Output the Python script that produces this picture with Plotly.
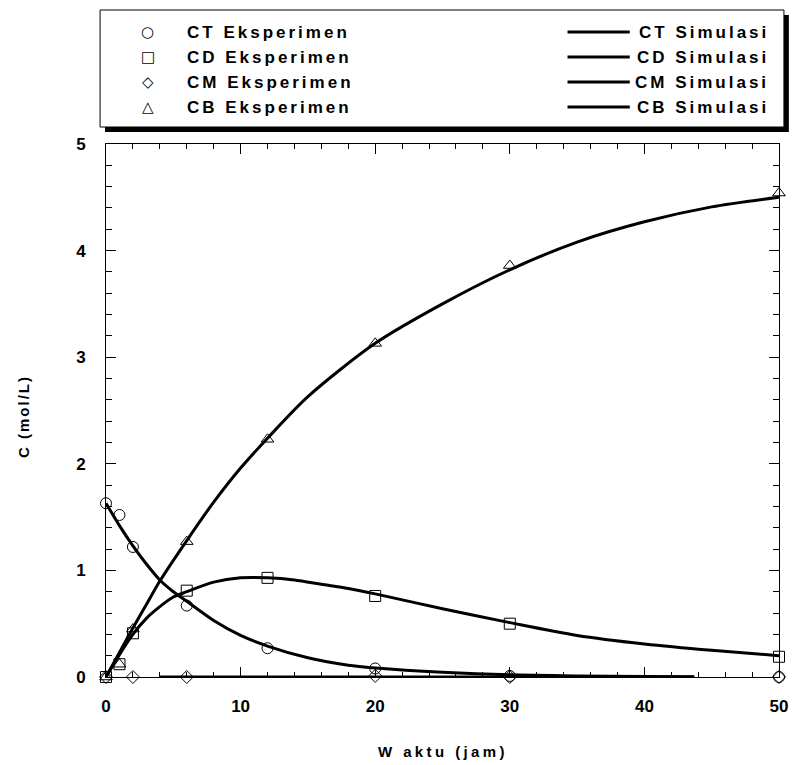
import plotly.graph_objects as go

# ---------------- data ----------------
t_exp = [0, 1, 2, 6, 12, 20, 30, 50]
ct_exp = [1.63, 1.52, 1.22, 0.67, 0.27, 0.08, 0.01, 0.0]
cd_exp = [0.0, 0.12, 0.41, 0.81, 0.93, 0.76, 0.50, 0.19]
cb_exp = [0.0, 0.12, 0.45, 1.27, 2.23, 3.13, 3.86, 4.54]
t_cm = [0, 2, 6, 20, 30, 50]
cm_exp = [0.0, 0.0, 0.0, 0.01, 0.0, 0.0]

t_ct_sim = [0, 1, 2, 3, 4, 5, 6, 8, 10, 12, 15, 18, 20, 25, 30, 35, 40, 43.7]
ct_sim = [1.63, 1.42, 1.23, 1.06, 0.91, 0.80, 0.71, 0.53, 0.39, 0.29, 0.18, 0.11, 0.085, 0.045, 0.02, 0.01, 0.005, 0.003]
t_cd_sim = [0, 1, 2, 3, 4, 5, 6, 8, 10, 12, 14, 16, 18, 20, 25, 30, 35, 40, 45, 50]
cd_sim = [0.0, 0.21, 0.40, 0.55, 0.66, 0.75, 0.80, 0.89, 0.93, 0.93, 0.91, 0.87, 0.83, 0.78, 0.64, 0.51, 0.39, 0.31, 0.25, 0.20]
t_cm_sim = [4, 10, 20, 30, 43.7]
cm_sim = [0.0, 0.0, 0.0, 0.0, 0.0]
t_cb_sim = [0, 1, 2, 3, 4, 6, 8, 10, 12, 15, 20, 25, 30, 35, 40, 45, 50]
cb_sim = [0.0, 0.23, 0.46, 0.68, 0.90, 1.28, 1.64, 1.96, 2.24, 2.63, 3.13, 3.50, 3.82, 4.08, 4.27, 4.41, 4.50]

exp_labels = ["CT Eksperimen", "CD Eksperimen", "CM Eksperimen", "CB Eksperimen"]
sim_labels = ["CT Simulasi", "CD Simulasi", "CM Simulasi", "CB Simulasi"]
legend_symbols = ["\u25CB", "\u25A1", "\u25C7", "\u25B3"]
x_title = "W aktu (jam)"
y_title = "C (mol/L)"

# ---------------- layout constants ----------------
W, H = 800, 765
ML, MR, MT, MB = 106, 13, 144, 88
PW, PH = W - ML - MR, H - MT - MB
FONT = "Liberation Sans, Arial, sans-serif"


def px(X):
    return (X - ML) / PW


def py(Y):
    return (H - MB - Y) / PH


fig = go.Figure()

line_style = dict(color="black", width=3, shape="spline", smoothing=0.8)
for xs, ys in [(t_ct_sim, ct_sim), (t_cd_sim, cd_sim), (t_cm_sim, cm_sim), (t_cb_sim, cb_sim)]:
    fig.add_trace(go.Scatter(x=xs, y=ys, mode="lines", line=line_style,
                             showlegend=False, hoverinfo="skip"))

marker_specs = [
    (t_exp, ct_exp, "circle-open", 11),
    (t_exp, cd_exp, "square-open", 11),
    (t_cm, cm_exp, "diamond-open", 10),
    (t_exp, cb_exp, "triangle-up-open", 11),
]
for xs, ys, sym, sz in marker_specs:
    fig.add_trace(go.Scatter(x=xs, y=ys, mode="markers", cliponaxis=False,
                             marker=dict(symbol=sym, size=sz, color="black",
                                         line=dict(color="black", width=1)),
                             showlegend=False))

axis_common = dict(
    showline=True, linecolor="black", linewidth=1, mirror="ticks",
    ticks="inside", ticklen=10, tickwidth=1, tickcolor="black",
    showgrid=False, zeroline=False,
    tickfont=dict(family=FONT, size=17, color="black", weight="bold"),
)
fig.update_xaxes(range=[0, 50], dtick=10, tick0=0,
                 minor=dict(dtick=2, ticks="inside", ticklen=5, tickcolor="black", showgrid=False),
                 ticklabelstandoff=14, **axis_common)
fig.update_yaxes(range=[0, 5], dtick=1, tick0=0,
                 minor=dict(dtick=0.2, ticks="inside", ticklen=6, tickcolor="black", showgrid=False),
                 ticklabelstandoff=16, **axis_common)

shapes = []
annotations = []

# legend box with drop shadow
shapes.append(dict(type="rect", xref="paper", yref="paper",
                   x0=px(105), x1=px(797), y0=py(132), y1=py(15),
                   fillcolor="black", line=dict(width=0), layer="above"))
shapes.append(dict(type="rect", xref="paper", yref="paper",
                   x0=px(100), x1=px(792), y0=py(127), y1=py(10),
                   fillcolor="white", line=dict(color="black", width=1), layer="above"))

row_y = [32, 57, 82, 107]
for i in range(4):
    annotations.append(dict(xref="paper", yref="paper", x=px(148), y=py(row_y[i]),
                            text=legend_symbols[i], showarrow=False, xanchor="center", yanchor="middle",
                            font=dict(family="DejaVu Sans", size=15, color="black")))
    annotations.append(dict(xref="paper", yref="paper", x=px(186), y=py(row_y[i]),
                            text="<span style='letter-spacing:3px'>" + exp_labels[i] + "</span>",
                            showarrow=False, xanchor="left", yanchor="middle",
                            font=dict(family=FONT, size=17, color="black", weight="bold")))
    shapes.append(dict(type="line", xref="paper", yref="paper",
                       x0=px(573), x1=px(636), y0=py(row_y[i]), y1=py(row_y[i]),
                       line=dict(color="black", width=3), layer="above"))
    annotations.append(dict(xref="paper", yref="paper", x=px(779), y=py(row_y[i]),
                            text="<span style='letter-spacing:3px'>" + sim_labels[i] + "</span>",
                            showarrow=False, xanchor="right", yanchor="middle",
                            font=dict(family=FONT, size=17, color="black", weight="bold")))

# axis titles
annotations.append(dict(xref="paper", yref="paper", x=px(447), y=py(751),
                        text="<span style='letter-spacing:3.4px'>" + x_title + "</span>",
                        showarrow=False, xanchor="center", yanchor="middle",
                        font=dict(family=FONT, size=15, color="black", weight="bold")))
annotations.append(dict(xref="paper", yref="paper", x=px(22), y=py(416),
                        text="<span style='letter-spacing:2px'>" + y_title + "</span>",
                        showarrow=False, xanchor="center", yanchor="middle", textangle=-90,
                        font=dict(family=FONT, size=15, color="black", weight="bold")))

fig.update_layout(
    width=W, height=H,
    margin=dict(l=ML, r=MR, t=MT, b=MB, pad=0),
    paper_bgcolor="white", plot_bgcolor="white",
    showlegend=False,
    shapes=shapes, annotations=annotations,
)

fig.write_html("out.html")
